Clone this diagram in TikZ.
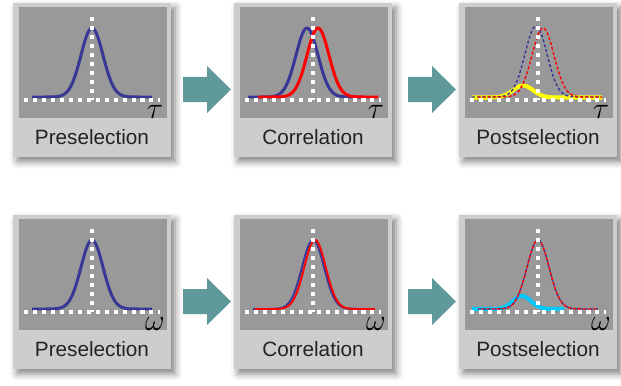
\documentclass[tikz,border=0pt]{standalone}
\usepackage{fontspec}
\setmainfont{Liberation Sans}
\usepackage{tikz}
\usetikzlibrary{shadows.blur}
\definecolor{panelGray}{RGB}{205,205,205}
\definecolor{plotGray}{RGB}{153,153,153}
\definecolor{pulseBlue}{RGB}{55,55,150}
\definecolor{pulseRed}{RGB}{255,0,0}
\definecolor{postYellow}{RGB}{255,255,0}
\definecolor{postCyan}{RGB}{0,200,250}
\definecolor{arrowTeal}{RGB}{96,153,153}
\definecolor{labelGray}{RGB}{35,35,35}

% panel: #1,#2 = where the two axes cross, #3 = name, #4 = caption, #5 = axis symbol
\newcommand{\panelbox}[5]{%
  \begin{scope}[shift={(#1,#2)}]
    \fill[panelGray,blur shadow={shadow xshift=2.4pt,shadow yshift=-2.6pt,shadow blur radius=4pt,shadow opacity=50}]
      (-79,-97) rectangle (79,57);
    \fill[plotGray] (-73,-93) rectangle (75,18);
    \node[lbl] (#3) at (0,37) {#4};
    \node[axlbl] (#3-ax) at (63,12) {$#5$};
  \end{scope}}
\newcommand{\panelaxes}[2]{%
  \begin{scope}[shift={(#1,#2)}]
    \draw[axisdots] (-68,0) -- (68,0);
    \draw[axisdots] (0,-83) -- (0,0);
  \end{scope}}

\begin{document}
\begin{tikzpicture}[x=0.02cm,y=-0.02cm,
  lbl/.style={font=\fontsize{11.8}{14}\selectfont,text=labelGray},
  axlbl/.style={font=\fontsize{16}{17}\selectfont,text=black},
  axisdots/.style={white,line width=2.3pt,dash pattern=on 2.3pt off 2.8pt},
  pulse/.style={line width=1.7pt,line join=round},
  slimpulse/.style={line width=1.1pt,line join=round},
  ghost/.style={line width=0.8pt,dash pattern=on 1.7pt off 1.2pt},
  bump/.style={line width=2.3pt,line join=round}]
  \useasboundingbox (0,0) rectangle (621,385);

  % block arrows
  \foreach \ax/\ay in {183/89.5,408/89.5,183/301.5,408/301.5}
    \fill[arrowTeal] (\ax,\ay-12.5) -- (\ax+24,\ay-12.5) -- (\ax+24,\ay-23.5) -- (\ax+48,\ay)
      -- (\ax+24,\ay+23.5) -- (\ax+24,\ay+12.5) -- (\ax,\ay+12.5) -- cycle;

  % top row (tau)
  \panelbox{92}{100}{preT}{Preselection}{\tau}
  \begin{scope}[shift={(92,100)}]
    \draw[pulse,pulseBlue] plot[domain=-60:60,samples=90] (\x,{-3-69*exp(-((\x)*(\x))/242)});
  \end{scope}
  \panelaxes{92}{100}

  \panelbox{313}{100}{corT}{Correlation}{\tau}
  \begin{scope}[shift={(313,100)}]
    \draw[pulse,pulseBlue] plot[domain=-65:50,samples=90] (\x,{-3-69*exp(-((\x+6)*(\x+6))/242)});
    \draw[pulse,pulseRed] plot[domain=-55:65,samples=90] (\x,{-3-69*exp(-((\x-5)*(\x-5))/242)});
  \end{scope}
  \panelaxes{313}{100}

  \panelbox{538}{100}{postT}{Postselection}{\tau}
  \begin{scope}[shift={(538,100)}]
    \draw[bump,postYellow] plot[domain=-66:64,samples=90] (\x,{-2.5-12*exp(-((\x+15)*(\x+15))/200)});
    \draw[ghost,pulseBlue] plot[domain=-66:62,samples=90] (\x,{-3-71*exp(-((\x+2)*(\x+2))/242)});
    \draw[ghost,pulseRed] plot[domain=-60:64,samples=90] (\x,{-3-69*exp(-((\x-5)*(\x-5))/242)});
  \end{scope}
  \panelaxes{538}{100}

  % bottom row (omega)
  \panelbox{92}{312}{preB}{Preselection}{\omega}
  \begin{scope}[shift={(92,312)}]
    \draw[pulse,pulseBlue] plot[domain=-60:60,samples=90] (\x,{-3-69*exp(-((\x)*(\x))/242)});
  \end{scope}
  \panelaxes{92}{312}

  \panelbox{313}{312}{corB}{Correlation}{\omega}
  \begin{scope}[shift={(313,312)}]
    \draw[slimpulse,pulseBlue] plot[domain=-60:60,samples=90] (\x,{-3-69*exp(-((\x)*(\x))/242)});
    \draw[slimpulse,pulseRed] plot[domain=-58:62,samples=90] (\x,{-3-69*exp(-((\x-2)*(\x-2))/230)});
  \end{scope}
  \panelaxes{313}{312}

  \panelbox{538}{312}{postB}{Postselection}{\omega}
  \begin{scope}[shift={(538,312)}]
    \draw[bump,postCyan] plot[domain=-66:26,samples=80] (\x,{-3-13*exp(-((\x+16)*(\x+16))/162)});
    \draw[ghost,pulseBlue] plot[domain=-60:60,samples=90] (\x,{-3-69*exp(-((\x)*(\x))/242)});
    \draw[ghost,pulseRed,dash phase=1pt] plot[domain=-60:60,samples=90] (\x,{-3-69*exp(-((\x)*(\x))/242)});
  \end{scope}
  \panelaxes{538}{312}
\end{tikzpicture}
\end{document}
